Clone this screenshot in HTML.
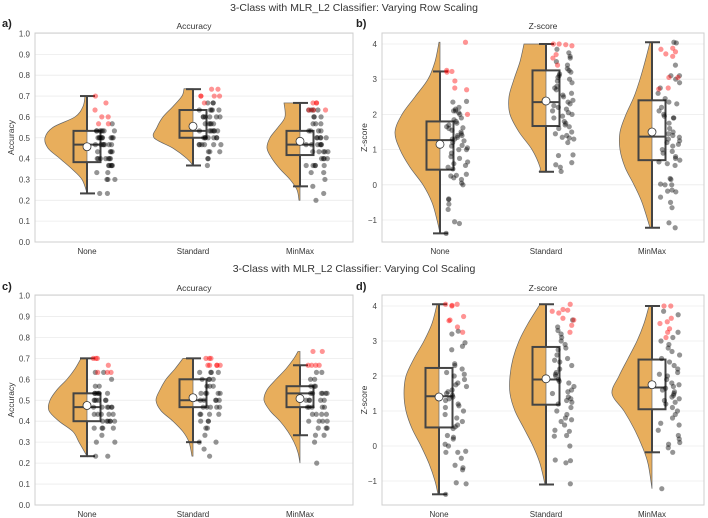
<!DOCTYPE html>
<html><head><meta charset="utf-8"><style>
body{margin:0;background:#fff}
svg{display:block;font-family:"Liberation Sans","DejaVu Sans",sans-serif}
</style></head><body>
<svg id="fig" width="708" height="518" viewBox="0 0 708 518">
<text x="354" y="11" text-anchor="middle" font-size="10.5" fill="#333">3-Class with MLR_L2 Classifier: Varying Row Scaling</text>
<text x="354" y="272" text-anchor="middle" font-size="10.5" fill="#333">3-Class with MLR_L2 Classifier: Varying Col Scaling</text>
<text x="2" y="27" font-size="11" font-weight="bold" fill="#222">a)</text>
<text x="356" y="27" font-size="11" font-weight="bold" fill="#222">b)</text>
<text x="2" y="290" font-size="11" font-weight="bold" fill="#222">c)</text>
<text x="356" y="290" font-size="11" font-weight="bold" fill="#222">d)</text>
</svg>
<script>
const categories = ["None","Standard","MinMax"];
const panelTitles = ["Accuracy","Z-score","Accuracy","Z-score"];
const accTicks = [0,0.1,0.2,0.3,0.4,0.5,0.6,0.7,0.8,0.9,1.0];
const accTickLabels = ["0.0","0.1","0.2","0.3","0.4","0.5","0.6","0.7","0.8","0.9","1.0"];
const zTicks = [-1,0,1,2,3,4];
const zTickLabels = ["\u22121","0","1","2","3","4"];

// box stats: [whiskerLow, q1, median, q3, whiskerHigh, mean]
const boxA = [[0.233,0.383,0.467,0.533,0.7,0.457],[0.367,0.5,0.533,0.633,0.733,0.555],[0.267,0.417,0.467,0.533,0.667,0.483]];
const boxB = [[-1.38,0.43,1.27,1.8,3.22,1.15],[0.37,1.67,2.35,3.25,4.0,2.38],[-1.22,0.7,1.37,2.4,4.05,1.5]];
const boxC = [[0.233,0.4,0.467,0.533,0.7,0.475],[0.3,0.467,0.5,0.6,0.7,0.512],[0.333,0.467,0.533,0.567,0.667,0.508]];
const boxD = [[-1.38,0.53,1.42,2.23,4.05,1.4],[-1.1,1.18,1.9,2.83,4.05,1.92],[-0.18,1.05,1.67,2.47,4.0,1.75]];

// violin density profiles: [value, density]
const violA = [
 [[0.235,0],[0.3,5],[0.35,15],[0.4,27],[0.45,39],[0.5,42],[0.55,34],[0.6,12],[0.65,4],[0.7,2]],
 [[0.367,0],[0.4,6],[0.45,20],[0.5,39],[0.55,36],[0.6,30],[0.65,20],[0.7,11],[0.735,9]],
 [[0.2,1],[0.25,3],[0.3,10],[0.35,20],[0.4,28],[0.45,33],[0.5,30],[0.55,22],[0.6,15],[0.667,16]]];
const violB = [
 [[-1.38,0],[-1,3],[-0.5,8],[0,17],[0.5,30],[1,40],[1.5,45],[2,38],[2.5,25],[3,12],[3.5,5],[4.05,1]],
 [[0.37,7],[0.5,6],[1,14],[1.5,27],[2,36],[2.5,37],[3,32],[3.5,26],[4.0,22]],
 [[-1.22,2],[-0.5,10],[0,18],[0.5,27],[1,32],[1.5,32],[2,26],[2.5,18],[3,12],[3.5,7],[4.05,2]]];
const violC = [
 [[0.233,0],[0.3,8],[0.35,14],[0.4,28],[0.45,38],[0.5,37],[0.55,30],[0.6,20],[0.65,12],[0.7,6]],
 [[0.233,1],[0.3,4],[0.35,10],[0.4,20],[0.45,32],[0.5,37],[0.55,33],[0.6,27],[0.65,18],[0.7,10]],
 [[0.2,0],[0.25,2],[0.3,6],[0.35,12],[0.4,20],[0.45,30],[0.5,36],[0.55,33],[0.6,24],[0.65,14],[0.7,6],[0.733,2]]];
const violD = [
 [[-1.38,1],[-1,4],[-0.5,10],[0,18],[0.5,27],[1,33],[1.5,35],[2,33],[2.5,25],[3,15],[3.5,7],[4.05,2]],
 [[-1.1,1],[-0.5,6],[0,13],[0.5,22],[1,31],[1.5,36],[2,36],[2.5,33],[3,27],[3.5,18],[4.05,6]],
 [[-1.22,0],[-0.5,4],[0,10],[0.5,18],[1,28],[1.5,40],[2,33],[2.5,24],[3,15],[3.5,8],[4,3]]];

const blackA = [
 [0.233,0.233,0.3,0.3,0.3,0.333,0.333,0.367,0.367,0.367,0.367,0.4,0.4,0.4,0.4,0.4,0.433,0.433,0.433,0.467,0.467,0.467,0.467,0.467,0.5,0.5,0.5,0.5,0.5,0.5,0.5,0.533,0.533,0.533,0.533,0.533,0.533,0.467,0.4,0.5,0.533,0.567,0.433,0.5,0.467,0.367,0.4],
 [0.367,0.4,0.4,0.433,0.433,0.467,0.467,0.467,0.467,0.467,0.5,0.5,0.5,0.5,0.5,0.533,0.533,0.533,0.533,0.533,0.533,0.567,0.567,0.567,0.567,0.6,0.6,0.6,0.6,0.633,0.633,0.633,0.633,0.667,0.667,0.667,0.5,0.533,0.567,0.6,0.467,0.433,0.6,0.633,0.5],
 [0.2,0.233,0.267,0.3,0.333,0.333,0.367,0.367,0.367,0.367,0.4,0.4,0.4,0.433,0.433,0.433,0.433,0.467,0.467,0.467,0.467,0.467,0.5,0.5,0.5,0.5,0.533,0.533,0.533,0.533,0.567,0.567,0.567,0.6,0.6,0.6,0.633,0.633,0.633,0.633,0.4,0.467,0.5,0.367,0.433]];
const redA = [[0.7,0.667,0.633,0.6,0.6,0.567,0.567],[0.733,0.733,0.7,0.7,0.7,0.7,0.667],[0.667,0.667,0.667,0.633,0.633,0.633]];
const blackB = [
 [-1.38,-1.1,-1.05,-0.7,-0.55,-0.42,-0.4,0,0.05,0.15,0.2,0.25,0.27,0.3,0.45,0.5,0.55,0.6,0.65,0.8,0.9,1.0,1.05,1.1,1.12,1.2,1.25,1.3,1.35,1.4,1.4,1.45,1.5,1.55,1.6,1.62,1.65,1.7,1.75,1.8,1.85,1.9,2.0,2.05,2.1,2.1,2.15,2.2,2.35,2.37,1.0,0.75,1.3],
 [0.38,0.5,0.57,0.63,0.83,0.85,1.2,1.3,1.33,1.35,1.4,1.5,1.6,1.65,1.7,1.75,1.8,1.9,2.0,2.05,2.1,2.15,2.2,2.3,2.35,2.4,2.5,2.6,2.7,2.75,2.8,2.9,3.0,3.05,3.1,3.2,3.25,3.3,3.4,3.5,3.6,3.65,3.75,3.85,1.45,2.25,2.95,3.15,1.95,2.55],
 [-1.22,-1.08,-0.65,-0.5,-0.35,-0.2,-0.18,-0.15,0,0,0.02,0.15,0.18,0.55,0.6,0.65,0.7,0.75,0.8,0.9,1.0,1.1,1.15,1.2,1.3,1.35,1.4,1.45,1.5,1.6,1.75,1.9,1.9,1.95,2.0,2.1,2.2,2.3,2.35,2.45,2.6,2.75,2.9,3.0,3.1,3.1,3.4,4.05,4.03,1.25,0.95]];
const redB = [[4.05,3.22,3.2,2.95,2.75,2.7,2.0,3.25],[4.0,4.0,3.98,3.95,3.7,3.6,3.4],[3.88,3.85,3.78,3.72,3.65,3.05,3.05,2.75,2.72]];
const blackC = [
 [0.233,0.233,0.3,0.3,0.333,0.367,0.367,0.367,0.4,0.4,0.4,0.4,0.4,0.433,0.433,0.433,0.433,0.467,0.467,0.467,0.467,0.467,0.5,0.5,0.5,0.5,0.5,0.533,0.533,0.533,0.533,0.533,0.533,0.567,0.567,0.6,0.633,0.633,0.433,0.5,0.467,0.4,0.367],
 [0.233,0.267,0.3,0.3,0.333,0.367,0.367,0.4,0.4,0.4,0.433,0.433,0.433,0.467,0.467,0.467,0.467,0.5,0.5,0.5,0.5,0.533,0.533,0.533,0.533,0.567,0.567,0.567,0.6,0.6,0.6,0.633,0.633,0.633,0.633,0.5,0.533,0.467,0.433,0.6],
 [0.2,0.3,0.333,0.333,0.367,0.367,0.367,0.4,0.4,0.4,0.433,0.433,0.433,0.467,0.467,0.467,0.467,0.5,0.5,0.5,0.5,0.533,0.533,0.533,0.533,0.533,0.567,0.567,0.567,0.6,0.6,0.633,0.633,0.467,0.5,0.533,0.433,0.4]];
const redC = [[0.7,0.7,0.7,0.667,0.633,0.633,0.633],[0.7,0.7,0.7,0.667,0.667,0.667,0.667,0.667],[0.733,0.733,0.667,0.667,0.667,0.667]];
const blackD = [
 [-1.38,-1.08,-1.05,-0.68,-0.62,-0.55,-0.35,-0.18,-0.18,-0.15,0,0.05,0.2,0.25,0.3,0.5,0.55,0.6,0.7,0.8,0.9,1.0,1.1,1.2,1.3,1.4,1.45,1.5,1.55,1.6,1.7,1.8,1.9,2.0,2.05,2.1,2.2,2.3,2.35,2.75,2.85,2.95,3.2,3.28,1.35,1.15,1.75],
 [-1.08,-0.48,-0.42,-0.4,0,0.28,0.3,0.42,0.45,0.6,0.7,0.75,0.8,1.0,1.1,1.2,1.25,1.3,1.35,1.4,1.5,1.6,1.7,1.8,1.9,2.0,2.05,2.1,2.2,2.3,2.4,2.5,2.6,2.75,2.8,2.9,3.0,3.1,3.2,3.3,3.4,3.6,1.55,1.85,2.45,0.9],
 [-1.22,-0.18,-0.05,0.05,0.1,0.2,0.3,0.45,0.6,0.65,0.8,0.9,1.0,1.1,1.2,1.3,1.35,1.4,1.45,1.5,1.6,1.65,1.7,1.75,1.8,1.9,2.0,2.1,2.2,2.3,2.4,2.5,2.6,2.7,2.8,2.9,3.0,3.1,3.25,3.75,3.85,1.25,1.55,2.05]];
const redD = [[4.05,4.05,4.02,4.0,3.7,3.6,3.58,3.4,3.25],[4.05,3.9,3.88,3.85,3.8,3.65,3.6,3.45,3.25],[4.0,4.0,3.65,3.55,3.5,3.35,3.25,3.1]];

const NS = "http://www.w3.org/2000/svg";
const svg = document.getElementById("fig");
function mk(tag, attrs, parent){
  const e = document.createElementNS(NS, tag);
  for (const k in attrs) e.setAttribute(k, attrs[k]);
  (parent||svg).appendChild(e);
  return e;
}
let seed = 12345;
function jit(){ seed = (seed*1103515245+12345) % 2147483648; return seed/2147483648; }

// smooth path through points (Catmull-Rom -> cubic Bezier)
function smooth(pts){
  let d = "";
  for (let i = 0; i < pts.length - 1; i++){
    const p0 = pts[Math.max(0,i-1)], p1 = pts[i], p2 = pts[i+1], p3 = pts[Math.min(pts.length-1,i+2)];
    const c1x = p1[0] + (p2[0]-p0[0])/6, c1y = p1[1] + (p2[1]-p0[1])/6;
    const c2x = p2[0] - (p3[0]-p1[0])/6, c2y = p2[1] - (p3[1]-p1[1])/6;
    d += ` C${c1x.toFixed(2)},${c1y.toFixed(2)} ${c2x.toFixed(2)},${c2y.toFixed(2)} ${p2[0].toFixed(2)},${p2[1].toFixed(2)}`;
  }
  return d;
}

const panels = [
 {id:"a", x0:35, x1:353, top:33, bot:242, vHi:1.0, pHi:33.5, vLo:0, pLo:242, cx:[87,193,300], ticks:accTicks, labels:accTickLabels, box:boxA, viol:violA, blk:blackA, red:redA, title:panelTitles[0], ylab:"Accuracy", ylx:11},
 {id:"b", x0:382, x1:704, top:33, bot:242, vHi:4, pHi:44, vLo:-1, pLo:220, cx:[440,546,652], ticks:zTicks, labels:zTickLabels, box:boxB, viol:violB, blk:blackB, red:redB, title:panelTitles[1], ylab:"Z-score", ylx:364},
 {id:"c", x0:35, x1:353, top:295, bot:505, vHi:1.0, pHi:295.5, vLo:0, pLo:505, cx:[87,193,300], ticks:accTicks, labels:accTickLabels, box:boxC, viol:violC, blk:blackC, red:redC, title:panelTitles[2], ylab:"Accuracy", ylx:11},
 {id:"d", x0:382, x1:704, top:295, bot:505, vHi:4, pHi:306, vLo:-1, pLo:481, cx:[439,546,652], ticks:zTicks, labels:zTickLabels, box:boxD, viol:violD, blk:blackD, red:redD, title:panelTitles[3], ylab:"Z-score", ylx:364}
];

panels.forEach(P => {
  const y = v => P.pLo + (v - P.vLo) * (P.pHi - P.pLo) / (P.vHi - P.vLo);
  const g = mk("g", {});
  
  
  mk("rect", {x:P.x0, y:P.top, width:P.x1-P.x0, height:P.bot-P.top, fill:"#fff"}, g);
  P.ticks.forEach((t,i) => {
    const gl = mk("line", {x1:P.x0, x2:P.x1, y1:y(t), y2:y(t), stroke:"#ebebeb", "stroke-width":0.8}, g);
    
    
    const tl = mk("text", {x:P.x0-5, y:y(t)+3, "text-anchor":"end", "font-size":8, fill:"#444"}, g);
    tl.textContent = P.labels[i];
    
    
  });
  const fr = mk("rect", {x:P.x0, y:P.top, width:P.x1-P.x0, height:P.bot-P.top, fill:"none", stroke:"#cfcfcf", "stroke-width":1}, g);
  
  
  const tt = mk("text", {x:(P.x0+P.x1)/2, y:P.top-4, "text-anchor":"middle", "font-size":8.5, fill:"#333"}, g);
  tt.textContent = P.title;
  
  
  const yl = mk("text", {x:0, y:0, "text-anchor":"middle", "font-size":8.5, fill:"#333", transform:`translate(${P.ylx+3},${(P.top+P.bot)/2}) rotate(-90)`}, g);
  yl.textContent = P.ylab;
  
  

  categories.forEach((cat, ci) => {
    const c = P.cx[ci];
    const b = P.box[ci];
    const xl = mk("text", {x:c, y:P.bot+12, "text-anchor":"middle", "font-size":8, fill:"#333"}, g);
    xl.textContent = cat;
    
    
    mk("rect", {x:c-13.5, y:y(b[3]), width:27, height:y(b[1])-y(b[3]), fill:"#fff"}, g);
    const prof = P.viol[ci];
    const pts = prof.map(p => [c - p[1], y(p[0])]);
    let d = `M${c},${y(prof[0][0])} L${pts[0][0]},${pts[0][1]}` + smooth(pts) + ` L${c},${y(prof[prof.length-1][0])} Z`;
    const vp = mk("path", {d:d, fill:"#e8ae5c", stroke:"#666", "stroke-width":0.7}, g);
    
    
    const bs = {stroke:"#444", "stroke-width":2, fill:"none"};
    const bx = mk("rect", Object.assign({x:c-13.5, y:y(b[3]), width:27, height:y(b[1])-y(b[3])}, bs), g);
    
    
    mk("line", Object.assign({x1:c-13.5, x2:c+13.5, y1:y(b[2]), y2:y(b[2])}, bs), g);
    mk("line", Object.assign({x1:c, x2:c, y1:y(b[0]), y2:y(b[1])}, bs), g);
    mk("line", Object.assign({x1:c, x2:c, y1:y(b[3]), y2:y(b[4])}, bs), g);
    mk("line", Object.assign({x1:c-7, x2:c+8, y1:y(b[0]), y2:y(b[0])}, bs), g);
    mk("line", Object.assign({x1:c-7, x2:c+8, y1:y(b[4]), y2:y(b[4])}, bs), g);
    P.blk[ci].forEach(v => {
      const pt = mk("circle", {cx:c+6+jit()*22, cy:y(v), r:2.6, fill:"#000", "fill-opacity":0.42}, g);
      
      
    });
    P.red[ci].forEach(v => {
      const pt = mk("circle", {cx:c+6+jit()*22, cy:y(v), r:2.6, fill:"#ff0000", "fill-opacity":0.42}, g);
      
      
    });
    const mn = mk("circle", {cx:c, cy:y(b[5]), r:4, fill:"#fff", stroke:"#333", "stroke-width":0.8}, g);
    
    
  });
});
</script>
</body></html>
